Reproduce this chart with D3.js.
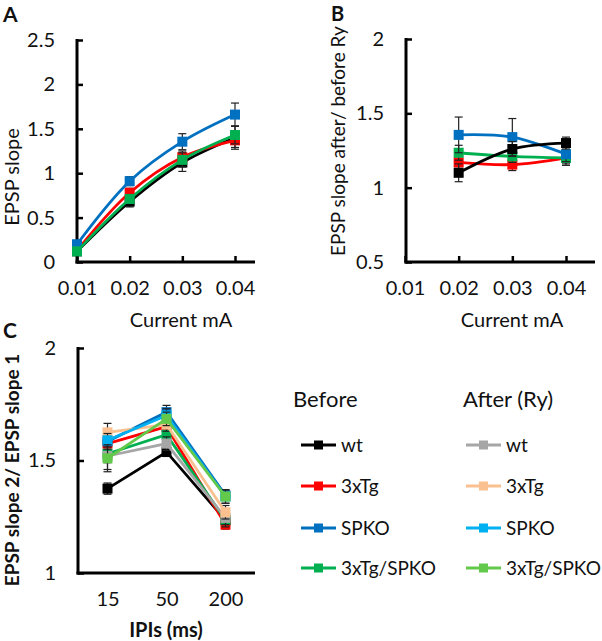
<!DOCTYPE html>
<html><head><meta charset="utf-8">
<script src="https://cdn.jsdelivr.net/npm/d3@7"></script>
<style>
body{margin:0;background:#fff;}
text{font-family:Lato,"Open Sans",sans-serif;fill:#111;}
</style></head>
<body><svg id="c" width="602" height="641"></svg>
<script>
// ---------- data ----------
const currentCats = ["0.01","0.02","0.03","0.04"];
const ipiCats = ["15","50","200"];
const groups = ["wt","3xTg","SPKO","3xTg/SPKO"];
const beforeColors = ["#000000","#FF0000","#0070C0","#00B050"];
const afterColors = ["#A6A6A6","#FAC090","#00B0F0","#62C94A"];

// Panel A: EPSP slope vs current
const aWt   = [0.12, 0.68, 1.12, 1.40];
const aWtErr= [0.02, 0.06, 0.10, 0.13];
const a3x   = [0.13, 0.78, 1.18, 1.37];
const a3xErr= [0.02, 0.05, 0.07, 0.08];
const aSp   = [0.20, 0.91, 1.355, 1.66];
const aSpErr= [0.03, 0.05, 0.09, 0.13];
const a3s   = [0.12, 0.71, 1.15, 1.43];
const a3sErr= [0.02, 0.05, 0.08, 0.10];

// Panel B: after/before Ry ratio (no value at 0.01)
const bWt   = [null, 1.10, 1.26, 1.30];
const bWtErr= [null, 0.06, 0.05, 0.04];
const b3x   = [null, 1.17, 1.155, 1.20];
const b3xErr= [null, 0.04, 0.04, 0.04];
const bSp   = [null, 1.355, 1.34, 1.225];
const bSpErr= [null, 0.12, 0.125, 0.05];
const b3s   = [null, 1.235, 1.21, 1.20];
const b3sErr= [null, 0.05, 0.04, 0.05];

// Panel C: paired pulse ratio
const cWtB = [1.375, 1.538, 1.235], cWtBErr = [0.025, 0.02, 0.03];
const c3xB = [1.575, 1.65, 1.215],  c3xBErr = [0.03, 0.03, 0.02];
const cSpB = [1.585, 1.715, 1.345], cSpBErr = [0.04, 0.03, 0.02];
const c3sB = [1.53, 1.615, 1.235],  c3sBErr = [0.07, 0.03, 0.03];
const cWtA = [1.52, 1.575, 1.245],  cWtAErr = [0.03, 0.03, 0.03];
const c3xA = [1.625, 1.66, 1.27],   c3xAErr = [0.04, 0.03, 0.03];
const cSpA = [1.59, 1.70, 1.34],    cSpAErr = [0.03, 0.03, 0.03];
const c3sA = [1.51, 1.685, 1.34],   c3sAErr = [0.06, 0.03, 0.03];

const aTicks = [0,0.5,1,1.5,2,2.5];
const bTicks = [0.5,1,1.5,2];
const cTicks = [1,1.5,2];

// ---------- drawing ----------
const svg = d3.select("#c");

function panel(opt){
  const g = svg.append("g");
  const x = d3.scalePoint().domain(opt.cats).range(opt.xr);
  const y = d3.scaleLinear().domain(opt.yd).range(opt.yr);
  const ax = opt.axisX;
  const ya = g.append("g").attr("transform",`translate(${ax},0)`)
    .call(d3.axisLeft(y).tickValues(opt.yTicks).tickFormat(d3.format("~g"))
      .tickSizeInner(-6).tickSizeOuter(0).tickPadding(22));
  ya.select(".domain").attr("stroke","#000").attr("stroke-width",3)
    .attr("d",`M0,${opt.yr[1]-1}V${opt.yr[0]+1.5}`);
  ya.selectAll(".tick line").attr("stroke","#000").attr("stroke-width",2.5);
  ya.selectAll(".tick text").attr("font-size",20).attr("fill","#111");
  const xa = g.append("g").attr("transform",`translate(0,${opt.yr[0]})`)
    .call(d3.axisBottom(x).tickSizeInner(opt.xTickMarks? -6 : 0).tickSizeOuter(0).tickPadding(19));
  xa.select(".domain").remove();
  xa.selectAll(".tick line").attr("stroke","#000").attr("stroke-width",2.5);
  xa.selectAll(".tick text").attr("font-size",20).attr("fill","#111");
  g.append("line").attr("x1",ax-1.5).attr("x2",opt.axisEnd)
    .attr("y1",opt.yr[0]).attr("y2",opt.yr[0]).attr("stroke","#000").attr("stroke-width",3);

  const line = d3.line().defined(d=>d.v!=null).x(d=>x(d.c)).y(d=>y(d.v))
    .curve(opt.smooth ? d3.curveCatmullRom.alpha(0.5) : d3.curveLinear);
  opt.series.forEach(s=>{
    const pts = opt.cats.map((c,i)=>({c, v:s.vals[i], e:s.err[i]})).filter(d=>d.v!=null);
    const eb = g.append("g").attr("stroke","#222").attr("stroke-width",1.2);
    pts.forEach(d=>{
      const cx = x(d.c), y1 = y(d.v+d.e), y2 = y(d.v-d.e);
      eb.append("line").attr("x1",cx).attr("x2",cx).attr("y1",y1).attr("y2",y2);
      eb.append("line").attr("x1",cx-4).attr("x2",cx+4).attr("y1",y1).attr("y2",y1);
      eb.append("line").attr("x1",cx-4).attr("x2",cx+4).attr("y1",y2).attr("y2",y2);
    });
    g.append("path").datum(pts).attr("d",line).attr("fill","none")
      .attr("stroke",s.color).attr("stroke-width",2.8);
    const ms = opt.marker;
    g.selectAll(null).data(pts).enter().append("rect")
      .attr("x",d=>x(d.c)-ms/2).attr("y",d=>y(d.v)-ms/2)
      .attr("width",ms).attr("height",ms).attr("fill",s.color);
  });
  return g;
}

const mk = (vals,err,i,cols)=>({vals,err,color:cols[i]});

panel({cats:currentCats, xr:[77,235], axisX:77, axisEnd:255, yd:[0,2.5], yr:[262,40], yTicks:aTicks,
  xTickMarks:true, smooth:true, marker:10,
  series:[mk(aWt,aWtErr,0,beforeColors), mk(a3x,a3xErr,1,beforeColors),
          mk(aSp,aSpErr,2,beforeColors), mk(a3s,a3sErr,3,beforeColors)]});

panel({cats:currentCats, xr:[405,566], axisX:406, axisEnd:595, yd:[0.5,2], yr:[262,39], yTicks:bTicks,
  xTickMarks:true, smooth:true, marker:10,
  series:[mk(b3x,b3xErr,1,beforeColors), mk(b3s,b3sErr,3,beforeColors),
          mk(bSp,bSpErr,2,beforeColors), mk(bWt,bWtErr,0,beforeColors)]});

panel({cats:ipiCats, xr:[107.5,225.5], axisX:78, axisEnd:255, yd:[1,2], yr:[573,348], yTicks:cTicks,
  xTickMarks:false, smooth:false, marker:10,
  series:[mk(cWtB,cWtBErr,0,beforeColors), mk(c3xB,c3xBErr,1,beforeColors),
          mk(cSpB,cSpBErr,2,beforeColors), mk(c3sB,c3sBErr,3,beforeColors),
          mk(cWtA,cWtAErr,0,afterColors), mk(c3xA,c3xAErr,1,afterColors),
          mk(cSpA,cSpAErr,2,afterColors), mk(c3sA,c3sAErr,3,afterColors)]});

// ---------- titles ----------
function txt(x,y,s,size,opts={}){
  const t = svg.append("text").attr("x",x).attr("y",y).text(s).attr("font-size",size)
    .attr("text-anchor",opts.anchor||"start");
  if(opts.bold) t.attr("font-weight","bold");
  if(opts.rot) t.attr("transform",`rotate(-90,${x},${y})`);
  return t;
}
txt(3,22,"A",21,{bold:true});
txt(331,21,"B",20,{bold:true});
txt(3,338,"C",21,{bold:true});
txt(19,177,"EPSP slope",20,{anchor:"middle",rot:true});
txt(345,141,"EPSP slope after/ before Ry",19,{anchor:"middle",rot:true});
txt(19,470,"EPSP slope 2/ EPSP slope 1",19,{anchor:"middle",rot:true,bold:true});
txt(181,327,"Current mA",20,{anchor:"middle"});
txt(512,327,"Current mA",20,{anchor:"middle"});
txt(166,637,"IPIs (ms)",20,{anchor:"middle",bold:true});

// ---------- legend ----------
txt(293,407,"Before",22);
txt(463,407,"After (Ry)",22);
const rowY = [445,486,528,568];
function legendCol(x0,cols){
  groups.forEach((name,i)=>{
    const y = rowY[i];
    svg.append("line").attr("x1",x0).attr("x2",x0+35).attr("y1",y).attr("y2",y)
      .attr("stroke",cols[i]).attr("stroke-width",2.8);
    svg.append("rect").attr("x",x0+17.5-4.5).attr("y",y-4.5).attr("width",9).attr("height",9)
      .attr("fill",cols[i]);
    txt(x0+40,y+7,name,19);
  });
}
legendCol(301,beforeColors);
legendCol(466,afterColors);
</script>
</body></html>
